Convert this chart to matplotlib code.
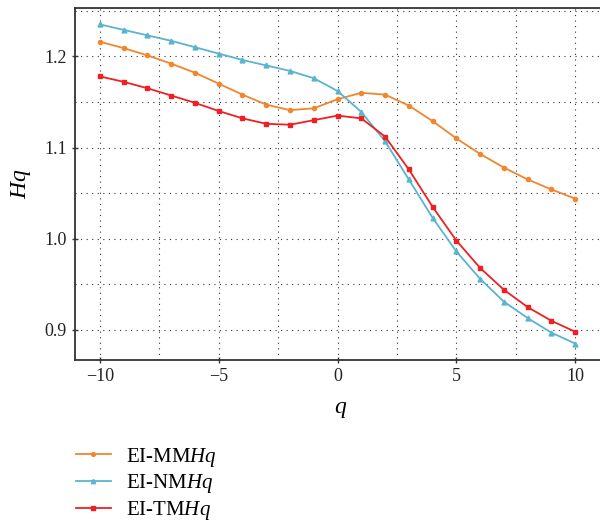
import numpy as np
import matplotlib
matplotlib.use("Agg")
import matplotlib.pyplot as plt
from matplotlib.ticker import MultipleLocator

plt.rcParams['font.family'] = ['Liberation Serif', 'DejaVu Serif']
plt.rcParams['mathtext.fontset'] = 'custom'
plt.rcParams['mathtext.it'] = 'Liberation Serif:italic'
plt.rcParams['mathtext.rm'] = 'Liberation Serif'

q = np.arange(-10, 11)
mm_hq = [1.216, 1.209, 1.201, 1.192, 1.182, 1.170, 1.158, 1.147, 1.141, 1.143, 1.153,
         1.160, 1.158, 1.146, 1.129, 1.110, 1.093, 1.078, 1.065, 1.054, 1.044]
nm_hq = [1.235, 1.229, 1.223, 1.217, 1.210, 1.203, 1.196, 1.190, 1.184, 1.176, 1.162,
         1.139, 1.107, 1.065, 1.023, 0.986, 0.956, 0.931, 0.913, 0.897, 0.885]
tm_hq = [1.178, 1.172, 1.165, 1.157, 1.149, 1.140, 1.132, 1.126, 1.125, 1.130, 1.135,
         1.132, 1.112, 1.076, 1.035, 0.998, 0.968, 0.944, 0.925, 0.910, 0.898]

fig = plt.figure(figsize=(6, 5.23), dpi=100)
ax = fig.add_axes([0.125, 0.3117, 0.885, 0.673])

ax.plot(q, mm_hq, color='#f0872e', lw=1.3, marker='o', ms=3, label=r'EI-MM$Hq$')
ax.plot(q, nm_hq, color='#5ab4cf', lw=1.3, marker='^', ms=3.5, label=r'EI-NM$Hq$')
ax.plot(q, tm_hq, color='#ee2024', lw=1.3, marker='s', ms=3.5, label=r'EI-TM$Hq$')

ax.set_xlim(-11.05, 11.3)
ax.set_ylim(0.867, 1.253)
ax.xaxis.set_minor_locator(MultipleLocator(2.5))
ax.yaxis.set_major_locator(MultipleLocator(0.1))
ax.yaxis.set_minor_locator(MultipleLocator(0.05))
ax.set_xticks([-10, -5, 0, 5, 10])
ax.set_xticklabels(['\u221210', '\u22125', '0', '5', '10'])
ax.grid(True, which='both', color='#333333', ls=(0, (1, 4)), lw=0.8)
ax.tick_params(which='major', direction='inout', length=5, width=1, labelsize=13,
               colors='#333333', labelcolor='#222222')
ax.tick_params(which='minor', length=0)
for s in ax.spines.values():
    s.set_linewidth(1.3)
    s.set_color('#333333')

ax.set_xlabel(r'$q$', fontsize=17, labelpad=10)
ax.set_ylabel(r'$Hq$', fontsize=17, labelpad=8)

ax.legend(loc='upper left', bbox_to_anchor=(-0.034, -0.19), frameon=False, fontsize=15,
          handlelength=1.7, labelspacing=0.18, handletextpad=0.7, markerscale=0.9)

fig.savefig('out.png', dpi=100)
